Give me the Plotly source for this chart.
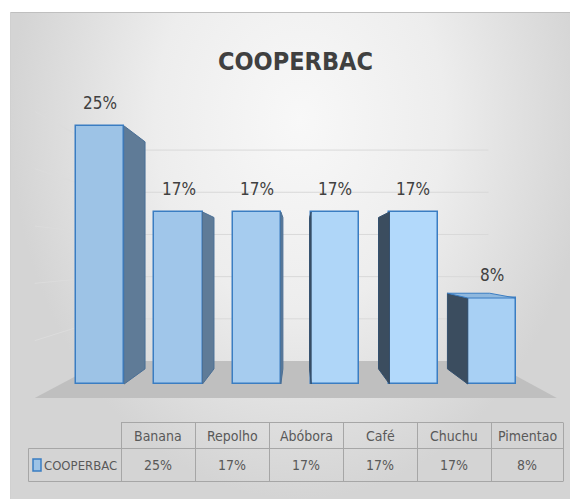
import plotly.graph_objects as go

# ---------------- data ----------------
categories = ["Banana", "Repolho", "Abóbora", "Café", "Chuchu", "Pimentao"]
values = [0.25, 0.1667, 0.1667, 0.1667, 0.1667, 0.0833]
series_name = "COOPERBAC"
chart_title = "COOPERBAC"
grid_values = [0.05, 0.10, 0.15, 0.20, 0.25]

# ---------------- styling ----------------
front_colors = ["#9dc3e6", "#a0c6ea", "#a6ccef", "#afd6f8", "#b2d9fb", "#a8d0f4"]
right_side_color = "#5f7b97"
left_side_color = "#3b4d5f"
top_color = "#8fb8de"
outline = "#3a7dc2"
FONT = "Liberation Sans Narrow, DejaVu Sans Condensed, Arial Narrow, sans-serif"
TXT = "#404040"
TBL_TXT = "#595959"
TBL_LINE = "#a6a6a6"

W, H = 570, 499
X0PX, XSTEP = 100.17, 78.33     # pixel of category 0 / pixels per category
Y0PX, YSTEP = 384.0, 1032.0     # pixel of value 0 / pixels per unit value
XR = [(0 - X0PX) / XSTEP, (W - X0PX) / XSTEP]
YR = [(Y0PX - H) / YSTEP, Y0PX / YSTEP]
VX, VY = (298 - X0PX) / XSTEP, (Y0PX - 258) / YSTEP   # vanishing point
DEPTH, BACK, FRONT = 0.12, 0.1825, -0.111
HALF = 0.3065
N = len(categories)


def proj(x, y, k):
    return x + k * (VX - x), y + k * (VY - y)


def d(px, py):  # pixel -> data coords (for decoration only)
    return (px - X0PX) / XSTEP, (Y0PX - py) / YSTEP


def poly(pts, color, axes, lw=0, lc=None):
    xs = [p[0] for p in pts] + [pts[0][0]]
    ys = [p[1] for p in pts] + [pts[0][1]]
    return go.Scatter(x=xs, y=ys, mode="lines", fill="toself", fillcolor=color,
                      line=dict(width=lw, color=lc or color), hoverinfo="skip",
                      showlegend=False, xaxis=axes[0], yaxis=axes[1])


fig = go.Figure()
BASE = ("x", "y")
TOP = ("x2", "y2")

# background with radial gradient (extra vertices lie outside the visible area)
bg_px = [(10, 499), (10, 12), (580, 12), (590, -260), (590, 499)]
bg = [d(*p) for p in bg_px]
fig.add_trace(go.Scatter(
    x=[p[0] for p in bg] + [bg[0][0]], y=[p[1] for p in bg] + [bg[0][1]],
    mode="lines", fill="toself", line=dict(width=0),
    fillgradient=dict(type="radial",
                      colorscale=[[0, "#f8f8f8"], [0.5, "#ededed"], [1, "#d4d4d4"]]),
    hoverinfo="skip", showlegend=False, xaxis="x", yaxis="y"))

# floor
lo, hi = -0.5, N - 0.5
floor = [proj(lo, 0, FRONT), proj(hi, 0, FRONT), proj(hi, 0, BACK), proj(lo, 0, BACK)]
fig.add_trace(poly(floor, "#bfbfbf", BASE))

# gridlines on back wall + left wall
gx, gy, wx, wy = [], [], [], []
for g in grid_values:
    a = proj(lo, g, BACK)
    b = proj(hi, g, BACK)
    f = proj(lo, g, FRONT)
    gx += [a[0], b[0], None]
    gy += [a[1], b[1], None]
    wx += [f[0], a[0], None]
    wy += [f[1], a[1], None]
fig.add_trace(go.Scatter(x=gx, y=gy, mode="lines", line=dict(color="#d9d9d9", width=1),
                         hoverinfo="skip", showlegend=False, xaxis="x", yaxis="y"))
fig.add_trace(go.Scatter(x=wx, y=wy, mode="lines", line=dict(color="#dcdcdc", width=1),
                         hoverinfo="skip", showlegend=False, xaxis="x", yaxis="y"))

# front faces
fig.add_trace(go.Bar(x=list(range(N)), y=values, width=2 * HALF,
                     marker=dict(color=front_colors, line=dict(color=outline, width=1.5)),
                     hoverinfo="skip", showlegend=False, xaxis="x2", yaxis="y2"))

# side / top faces
for i, v in enumerate(values):
    xl, xr = i - HALF, i + HALF
    if xr < VX:
        pts = [(xr, 0), (xr, v), proj(xr, v, DEPTH), proj(xr, 0, DEPTH)]
        fig.add_trace(poly(pts, right_side_color, TOP, 1, "#4a6f96"))
    if xl > VX:
        pts = [(xl, 0), (xl, v), proj(xl, v, DEPTH), proj(xl, 0, DEPTH)]
        fig.add_trace(poly(pts, left_side_color, TOP, 1, "#34506e"))
    if v < VY:
        pts = [(xl, v), (xr, v), proj(xr, v, DEPTH), proj(xl, v, DEPTH)]
        fig.add_trace(poly(pts, top_color, TOP, 1, outline))

annotations = []
shapes = []

# data labels
for i, v in enumerate(values):
    annotations.append(dict(x=i, y=v, xref="x2", yref="y2", text=f"{round(v * 100)}%",
                            showarrow=False, yshift=23, xanchor="center", yanchor="middle",
                            font=dict(family=FONT, size=17, color=TXT)))

# title
annotations.append(dict(x=296 / W, y=1 - 61 / H, xref="paper", yref="paper", text=f"<b>{chart_title}</b>",
                        showarrow=False, xanchor="center", yanchor="middle",
                        font=dict(family=FONT, size=25, color=TXT)))


def px(x):
    return x / W


def py(y):
    return 1 - y / H


# chart border
shapes.append(dict(type="line", xref="paper", yref="paper", x0=px(10), x1=px(575), y0=py(12.5), y1=py(12.5),
                   line=dict(color="#bfbfbf", width=1)))
shapes.append(dict(type="line", xref="paper", yref="paper", x0=px(10.5), x1=px(10.5), y0=py(12), y1=py(505),
                   line=dict(color="#d0d0d0", width=1)))

# data table
col_edges = [121, 195, 269, 343, 417, 491, 563]
t_top, t_mid, t_bot, t_left = 422.5, 448.5, 481.5, 28.5
lines = [
    (col_edges[0], t_top, col_edges[-1], t_top),
    (t_left, t_mid, col_edges[-1], t_mid),
    (t_left, t_bot, col_edges[-1], t_bot),
    (t_left, t_mid, t_left, t_bot),
]
for c in col_edges:
    lines.append((c + 0.5, t_top, c + 0.5, t_bot))
for x0, y0, x1, y1 in lines:
    shapes.append(dict(type="line", xref="paper", yref="paper", x0=px(x0), x1=px(x1), y0=py(y0), y1=py(y1),
                       line=dict(color=TBL_LINE, width=1)))

for j, (cat, v) in enumerate(zip(categories, values)):
    cx = (col_edges[j] + col_edges[j + 1]) / 2
    annotations.append(dict(x=px(cx), y=py((t_top + t_mid) / 2), xref="paper", yref="paper", text=cat,
                            showarrow=False, xanchor="center", yanchor="middle",
                            font=dict(family=FONT, size=14, color=TBL_TXT)))
    annotations.append(dict(x=px(cx), y=py((t_mid + t_bot) / 2), xref="paper", yref="paper",
                            text=f"{round(v * 100)}%", showarrow=False, xanchor="center", yanchor="middle",
                            font=dict(family=FONT, size=14, color=TBL_TXT)))

# legend key + series name
shapes.append(dict(type="rect", xref="paper", yref="paper", x0=px(33), x1=px(41), y0=py(459), y1=py(471),
                   fillcolor="#9dc3e6", line=dict(color=outline, width=1.5)))
annotations.append(dict(x=px(42), y=py((t_mid + t_bot) / 2), xref="paper", yref="paper", text=series_name,
                        showarrow=False, xanchor="left", yanchor="middle",
                        font=dict(family=FONT, size=13, color=TBL_TXT)))

ax = dict(visible=False, fixedrange=True, showgrid=False, zeroline=False)
fig.update_layout(
    width=W, height=H, margin=dict(l=0, r=0, t=0, b=0),
    paper_bgcolor="white", plot_bgcolor="rgba(0,0,0,0)",
    xaxis=dict(range=XR, domain=[0, 1], **ax),
    yaxis=dict(range=YR, domain=[0, 1], **ax),
    xaxis2=dict(range=XR, overlaying="x", **ax),
    yaxis2=dict(range=YR, overlaying="y", **ax),
    annotations=annotations, shapes=shapes, showlegend=False, bargap=0,
)

fig.write_html("out.html", config={"displayModeBar": False},
               post_script="document.body.style.margin='0';document.body.style.overflow='hidden';")
